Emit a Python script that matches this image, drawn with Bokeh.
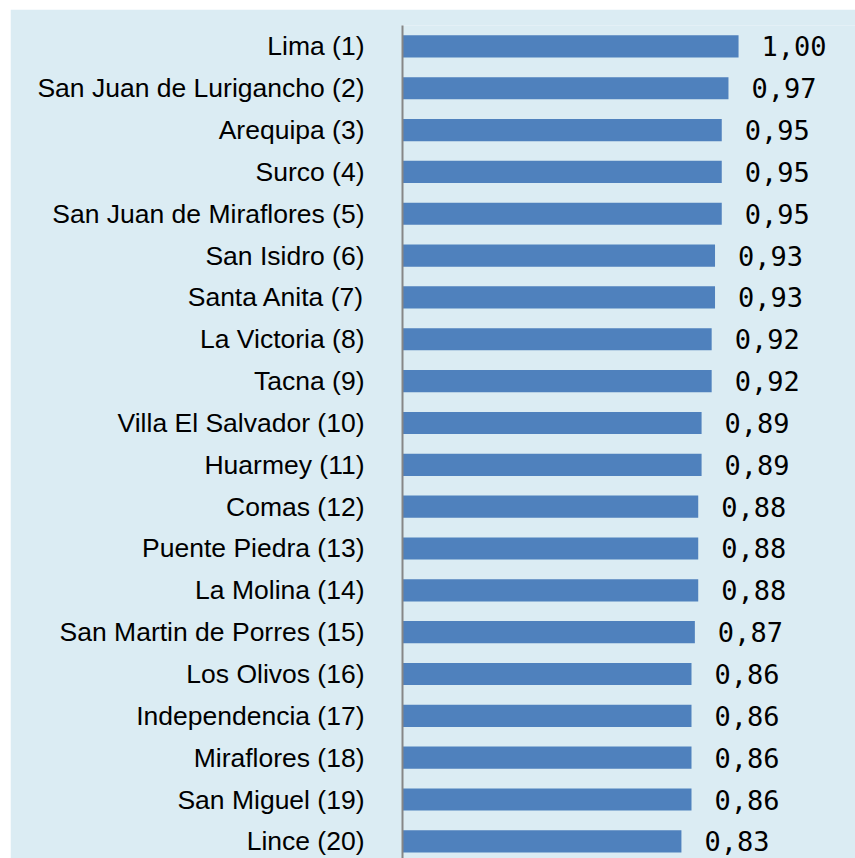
from bokeh.plotting import figure
from bokeh.models import Range1d, FixedTicker, ColumnDataSource
from bokeh.embed import file_html
from bokeh.resources import INLINE
from bokeh.core.properties import value

districts = ["Lima", "San Juan de Lurigancho", "Arequipa", "Surco",
             "San Juan de Miraflores", "San Isidro", "Santa Anita", "La Victoria",
             "Tacna", "Villa El Salvador", "Huarmey", "Comas", "Puente Piedra",
             "La Molina", "San Martin de Porres", "Los Olivos", "Independencia",
             "Miraflores", "San Miguel", "Lince"]
ranks = [1, 2, 3, 4, 5, 6, 7, 8, 9, 10, 11, 12, 13, 14, 15, 16, 17, 18, 19, 20]
scores = [1.00, 0.97, 0.95, 0.95, 0.95, 0.93, 0.93, 0.92, 0.92, 0.89,
          0.89, 0.88, 0.88, 0.88, 0.87, 0.86, 0.86, 0.86, 0.86, 0.83]

labels = [f"{v:.2f}".replace(".", ",") for v in scores]
src = ColumnDataSource(data=dict(rank=ranks, score=scores, label=labels))

bg = "#DBECF3"
p = figure(width=845, height=849, margin=(9, 0, 0, 10),
           x_range=Range1d(0, 1.348), y_range=Range1d(20.41, 0.5),
           output_backend="svg", toolbar_location=None, x_axis_location=None,
           min_border_left=392, min_border_right=0, min_border_top=16,
           min_border_bottom=0,
           background_fill_color=bg, border_fill_color=bg,
           outline_line_color=None)

p.hbar(y="rank", right="score", left=0, height=0.53, color="#4F81BD",
       line_color=None, source=src)
p.text(x="score", y="rank", text="label", x_offset=23, text_baseline="middle",
       text_align="left", text_font=value("DejaVu Sans Mono"),
       text_font_size="27px", text_color="#000000", source=src)

p.xgrid.visible = False
p.ygrid.visible = False

ya = p.yaxis[0]
ya.ticker = FixedTicker(ticks=ranks)
ya.major_label_overrides = {r: f"{d} ({r})" for r, d in zip(ranks, districts)}
ya.major_tick_line_color = None
ya.minor_tick_line_color = None
ya.major_tick_out = 0
ya.major_tick_in = 0
ya.axis_line_color = "#868686"
ya.axis_line_width = 2
ya.major_label_text_font = "Liberation Sans"
ya.major_label_text_font_size = "26.5px"
ya.major_label_text_color = "#000000"
ya.major_label_standoff = 38

open("out.html", "w").write(file_html(p, INLINE))
